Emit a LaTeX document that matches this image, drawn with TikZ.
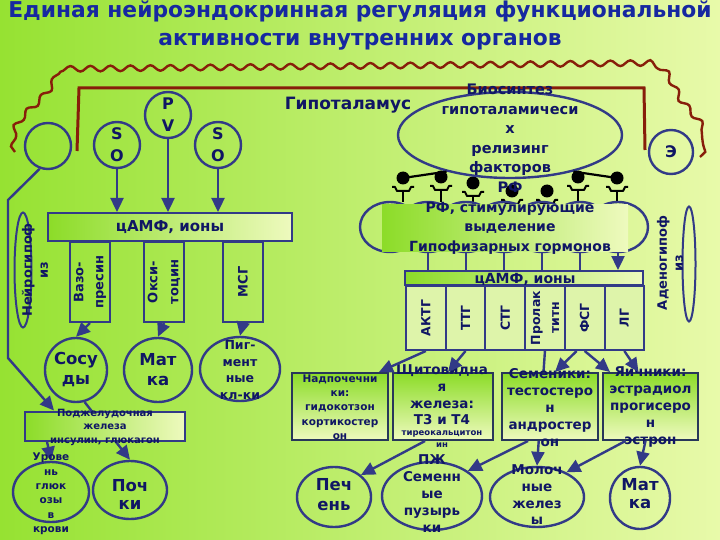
\documentclass[tikz,border=0pt]{standalone}
\usepackage{fontspec}
\setmainfont{DejaVu Sans}
\usetikzlibrary{shapes.geometric,arrows.meta,decorations.pathmorphing}

\definecolor{ink}{RGB}{16,22,100}
\definecolor{titleblue}{RGB}{22,40,160}
\definecolor{wire}{RGB}{50,58,135}
\definecolor{frame}{RGB}{40,55,90}
\definecolor{rust}{RGB}{135,30,10}
\definecolor{lime}{RGB}{140,220,40}
\definecolor{pale}{RGB}{238,250,190}
\definecolor{slotfill}{RGB}{222,244,170}
\definecolor{bgleft}{RGB}{150,226,50}
\definecolor{bgright}{RGB}{232,250,170}
\newcommand{\txtsize}[2]{\fontsize{#1}{#2}\selectfont\bfseries}

\begin{document}
\begin{tikzpicture}[x=1pt,y=-1pt,
    oval/.style={draw=wire, ellipse, line width=2.4pt, inner sep=0pt},
    lbl/.style={align=center, inner sep=0pt, text=ink},
    strip/.style={draw=wire, line width=2pt, left color=lime, right color=pale, inner sep=0pt},
    slot/.style={draw=wire, line width=2pt, fill=slotfill, inner sep=0pt},
    gland/.style={draw=frame, line width=2pt, top color=lime, bottom color=pale, inner sep=0pt},
    arr/.style={draw=wire, line width=2.4pt, -{Triangle[length=14pt,width=13pt]}},
    link/.style={draw=wire, line width=2.4pt}]

  % background
  \shade[left color=bgleft, right color=bgright] (0,0) rectangle (720,540);
  \useasboundingbox (0,0) rectangle (720,540);

  \node[lbl, text=titleblue, font=\txtsize{21.8}{28}] (title) at (360,26)
    {Единая нейроэндокринная регуляция функциональной\\активности внутренних органов};

  % hypothalamus border
  \draw[rust, line width=2.4pt, decorate, decoration={snake, segment length=20, amplitude=2.8}]
    (15,152) .. controls (8,118) and (48,112) .. (58,78) -- (648,72)
    .. controls (672,74) and (672,100) .. (686,115) .. controls (702,132) and (712,145) .. (700,157);
  \draw[rust, line width=3pt] (77,151) -- (79,88) -- (644,88) -- (645,150);
  \node[lbl, font=\txtsize{17}{20}] (hypo) at (348,105) {Гипоталамус};

  % nuclei
  \node[oval, minimum size=46] (blank) at (48,146) {};
  \node[oval, minimum size=46] (so1) at (117,145) {};
  \node[oval, minimum size=46] (pv) at (168,115) {};
  \node[oval, minimum size=46] (so2) at (218,145) {};
  \node[oval, minimum size=44] (ep) at (671,152) {};
  \node[lbl, font=\txtsize{16}{22}] (so1-t) at (so1) {S\\O};
  \node[lbl, font=\txtsize{16}{22}] (pv-t) at (pv) {P\\V};
  \node[lbl, font=\txtsize{16}{22}] (so2-t) at (so2) {S\\O};
  \node[lbl, font=\txtsize{16}{22}] (ep-t) at (ep) {Э};

  % neurohypophysis
  \node[strip, minimum width=244, minimum height=28, font=\txtsize{15}{18}, text=ink] (campL) at (170,227) {цАМФ, ионы};
  \draw[arr] (so1.south) -- (so1.south |- campL.north);
  \draw[arr] (pv.south) -- (pv.south |- campL.north);
  \draw[arr] (so2.south) -- (so2.south |- campL.north);

  \node[slot, fill=none, minimum width=40, minimum height=80, anchor=north] (vaso) at (90,241) {};
  \node[slot, fill=none, minimum width=40, minimum height=80, anchor=north] (oksi) at (164,241) {};
  \node[slot, fill=none, minimum width=40, minimum height=80, anchor=north] (msg) at (243,241) {};
  \node[lbl, rotate=90, font=\txtsize{13}{20}] (vaso-t) at (vaso) {Вазо-\\пресин};
  \node[lbl, rotate=90, font=\txtsize{13}{21}] (oksi-t) at (oksi) {Окси-\\тоцин};
  \node[lbl, rotate=90, font=\txtsize{13}{20}] (msg-t) at (msg) {МСГ};

  \node[oval, minimum width=62, minimum height=64] (sosud) at (76,370) {};
  \node[oval, minimum width=68, minimum height=64] (uterusL) at (158,370) {};
  \node[oval, minimum width=80, minimum height=64] (pigm) at (240,369) {};
  \node[lbl, font=\txtsize{16.5}{20}] (sosud-t) at (sosud) {Сосу\\ды};
  \node[lbl, font=\txtsize{16.5}{20}] (uterusL-t) at (uterusL) {Мат\\ка};
  \node[lbl, font=\txtsize{12.5}{16.5}] (pigm-t) at (240,370) {Пиг-\\мент\\ные\\кл-ки};
  \draw[arr] (vaso.south) -- (sosud.north);
  \draw[arr] (oksi.south) -- (uterusL.north);
  \draw[arr] (msg.south) -- (pigm.north);

  \node[oval, line width=2pt, minimum width=17, minimum height=115] (neuro) at (23,270) {};
  \node[lbl, rotate=90, font=\txtsize{13}{16}] (neuro-t) at (35,270) {Нейрогипоф\\из};

  % pancreas
  \node[oval, minimum width=76, minimum height=60] (gluc) at (51,492) {};
  \node[oval, minimum width=74, minimum height=58] (kidney) at (130,490) {};
  \draw[arr] (sosud.-75) -- (kidney.north);
  \node[strip, minimum width=160, minimum height=29] (panc) at (105,426) {};
  \node[lbl, font=\txtsize{10}{13.5}] (panc-t) at (105,427) {Поджелудочная\\железа\\инсулин, глюкагон};
  \draw[arr] (blank.250) -- (8,200) -- (8,358) -- ([xshift=30]panc.north west);
  \draw[arr] ([xshift=23]panc.south west) -- (gluc.north);
  \node[lbl, font=\txtsize{10.5}{14.4}] (gluc-t) at (51,494) {Урове\\нь\\глюк\\озы\\в\\крови};
  \node[lbl, font=\txtsize{16.5}{18}] (kidney-t) at (130,494) {Поч\\ки};

  % releasing factors
  \foreach \x/\y in {403/178, 441/177, 473/183, 512/191, 547/191, 578/177, 617/178} {
    \draw[black, line width=2pt] (\x,\y+13) -- (\x,202);
    \draw[black, line width=2pt, line join=round] (\x-11,\y+9) -- (\x-8,\y+9) -- (\x-6,\y+13) -- (\x+6,\y+13) -- (\x+8,\y+9) -- (\x+11,\y+9);
    \fill[black] (\x,\y) circle (6.5);
  }
  \node[oval, minimum width=224, minimum height=86] (biosyn) at (510,135) {};
  \draw[black, line width=2.2pt] (biosyn.210) -- (403,178);
  \draw[black, line width=2.2pt] (biosyn.-30) -- (617,178);
  \node[lbl, font=\txtsize{14.5}{19.5}] (biosyn-t) at (510,138) {Биосинтез\\гипоталамичеси\\х\\релизинг\\факторов\\РФ};

  \foreach \i/\x in {1/390, 2/428, 3/466, 4/504, 5/542, 6/580, 7/618}
    \node[oval, minimum width=60, minimum height=50] (rf\i) at (\x,227) {};
  \node[left color=lime, right color=pale, inner sep=0pt, minimum width=246, minimum height=46] (rfbox) at (505,228) {};
  \node[lbl, font=\txtsize{14}{19.5}] (rfbox-t) at (510,228) {РФ, стимулирующие\\выделение\\Гипофизарных гормонов};

  % adenohypophysis
  \node[strip, minimum width=238, minimum height=14] (campR) at (524,278) {};
  \node[lbl, font=\txtsize{14}{16}] (campR-t) at (525,279) {цАМФ, ионы};
  \foreach \i/\lab in {1/АКТГ, 2/ТТГ, 3/СТГ, 4/{Пролак\\титн}, 5/ФСГ, 6/ЛГ} {
    \node[slot, minimum width=39.7, minimum height=64, anchor=north west] (hor\i) at ({405+(\i-1)*39.7},285) {};
    \node[lbl, rotate=90, font=\txtsize{12.5}{19}] (hor\i-t) at (hor\i) {\lab};
  }
  \foreach \i in {2,...,6}
    \draw[link] (rf\i.south) -- (rf\i.south |- campR.north);
  \draw[arr] (rf7.south) -- (rf7.south |- campR.north);

  \node[oval, line width=2pt, minimum width=13, minimum height=115] (adeno) at (689,264) {};
  \node[lbl, rotate=90, font=\txtsize{13}{16}] (adeno-t) at (670,263) {Аденогипоф\\из};

  % target organs
  \node[oval, minimum width=74, minimum height=60] (liver) at (334,497) {};
  \node[oval, minimum width=100, minimum height=68] (pz) at (432,496) {};
  \node[oval, minimum width=94, minimum height=60] (milk) at (537,497) {};
  \node[oval, minimum width=60, minimum height=62] (uterusR) at (640,498) {};
  \node[lbl, font=\txtsize{16.5}{20}] (liver-t) at (334,495) {Печ\\ень};
  \node[lbl, font=\txtsize{13.5}{17}] (pz-t) at (432,494) {ПЖ\\Семенн\\ые\\пузырь\\ки};
  \node[lbl, font=\txtsize{13.5}{16.7}] (milk-t) at (537,495) {Молоч\\ные\\желез\\ы};
  \node[lbl, font=\txtsize{16.5}{18}] (uterusR-t) at (640,494) {Мат\\ка};
  \draw[arr] (hor4.south) -- (milk.north);

  % target glands
  \node[gland, minimum width=96, minimum height=67] (adrenal) at (340,406.5) {};
  \node[gland, minimum width=100, minimum height=67] (thyroid) at (443,406.5) {};
  \node[gland, minimum width=96, minimum height=67] (testis) at (550,406.5) {};
  \node[gland, minimum width=95, minimum height=67] (ovary) at (650.5,406.5) {};
  \node[lbl, font=\txtsize{10.5}{14.3}] (adrenal-t) at (340,407) {Надпочечни\\ки:\\гидокотзон\\кортикостер\\он};
  \node[lbl, font=\txtsize{13.5}{16.7}] (thyroid-t) at (442,395) {Щитовидна\\я\\железа:\\Т3 и Т4};
  \node[lbl, font=\txtsize{8.5}{12}] (thyroid-s) at (442,439) {тиреокальцитон\\ин};
  \node[lbl, font=\txtsize{13.5}{17.2}] (testis-t) at (550,407.5) {Семеники:\\тестостеро\\н\\андростер\\он};
  \node[lbl, font=\txtsize{13.5}{17}] (ovary-t) at (650.5,407) {Яичники:\\эстрадиол\\прогисеро\\н\\эстрон};

  \draw[arr] (hor1.south) -- ([xshift=-10]adrenal.north east);
  \draw[arr] (hor2.south) -- ([xshift=5]thyroid.north);
  \draw[arr] ([xshift=-8]hor5.south) -- ([xshift=5]testis.north);
  \draw[arr] (hor5.south) -- ([xshift=8]ovary.north west);
  \draw[arr] (hor6.south) -- ([xshift=-12]ovary.north);

  \draw[arr] ([xshift=-18]thyroid.south) -- (liver.north east);
  \draw[arr] ([xshift=-22]testis.south) -- (pz.35);
  \draw[arr] ([xshift=-25]ovary.south) -- (milk.40);
  \draw[arr] ([xshift=-5]ovary.south) -- (uterusR.north);
\end{tikzpicture}
\end{document}
